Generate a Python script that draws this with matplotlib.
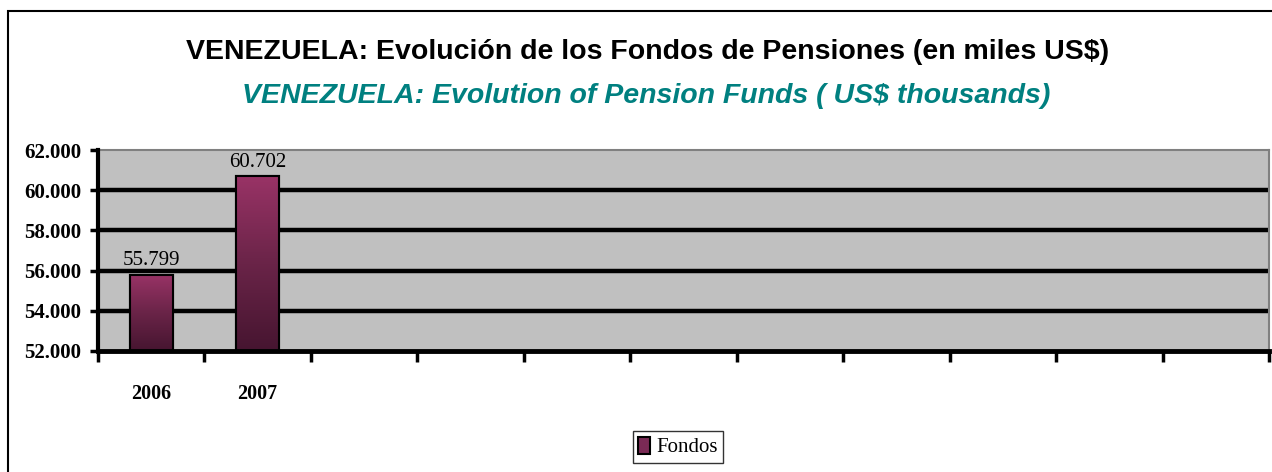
import numpy as np
import matplotlib
matplotlib.use("Agg")
import matplotlib.pyplot as plt
from matplotlib.patches import Rectangle
from matplotlib.colors import LinearSegmentedColormap

# data
years = ["2006", "2007", "", "", "", "", "", "", "", "", ""]
fondos = [55799, 60702]
y_ticks = [52000, 54000, 56000, 58000, 60000, 62000]

title_es = "VENEZUELA: Evolución de los Fondos de Pensiones (en miles US$)"
title_en = "VENEZUELA: Evolution of Pension Funds ( US$ thousands)"

sans = ["Liberation Sans", "DejaVu Sans"]
serif = ["Liberation Serif", "DejaVu Serif"]

fig = plt.figure(figsize=(12.72, 4.72), dpi=100)
ax = fig.add_axes([98 / 1272, 1 - 351 / 472, (1269 - 98) / 1272, (351 - 150) / 472])

ax.set_facecolor("#C0C0C0")
ax.set_xlim(-0.5, len(years) - 0.5)
ax.set_ylim(52000, 62000)

x = np.arange(len(fondos))
bars = ax.bar(x, np.array(fondos) - 52000, bottom=52000, width=0.4,
              color="#7a2a55", edgecolor="black", linewidth=1.5, zorder=3)

# gradient fill inside each bar
cmap = LinearSegmentedColormap.from_list("grad", ["#461530", "#6a2448", "#993366"])
grad = np.linspace(0, 1, 256).reshape(-1, 1)
for b in bars:
    x0 = b.get_x()
    x1 = x0 + b.get_width()
    y0 = b.get_y()
    y1 = y0 + b.get_height()
    im = ax.imshow(grad, cmap=cmap, origin="lower", aspect="auto",
                   extent=[x0, x1, y0, y1], zorder=3.5)
    im.set_clip_path(b)
    ax.add_patch(Rectangle((x0, y0), b.get_width(), b.get_height(),
                           fill=False, ec="black", lw=1.5, zorder=4))

for xi, v in zip(x, fondos):
    ax.annotate(f"{v:,}".replace(",", "."), (xi, v), xytext=(0, 3),
                textcoords="offset points", ha="center", va="bottom",
                fontsize=15, family=serif, zorder=5)

# grid
for yv in y_ticks[1:-1]:
    ax.axhline(yv, color="black", lw=3.2, zorder=1)

ax.set_yticks(y_ticks)
ax.set_yticklabels([f"{v:,}".replace(",", ".") for v in y_ticks],
                   fontsize=15, fontweight="bold", family=serif)
ax.tick_params(axis="y", direction="out", length=6, width=2.5, pad=6)

ax.set_xticks(range(len(years)))
ax.set_xticklabels(years, fontsize=14.5, fontweight="bold", family=serif)
ax.set_xticks(np.arange(-0.5, len(years)), minor=True)
ax.tick_params(axis="x", which="major", length=0, pad=24)
ax.tick_params(axis="x", which="minor", direction="out", length=8, width=2.5)

ax.spines["left"].set_linewidth(3)
ax.spines["bottom"].set_linewidth(3.5)
ax.spines["top"].set_color("#808080")
ax.spines["top"].set_linewidth(1.5)
ax.spines["right"].set_color("#808080")
ax.spines["right"].set_linewidth(1.5)
ax.spines["left"].set_zorder(6)
ax.spines["bottom"].set_zorder(6)

# titles
fig.text(648 / 1272, 1 - 52 / 472, title_es, ha="center", va="center",
         fontsize=20.5, fontweight="bold", family=sans)
fig.text(646 / 1272, 1 - 96 / 472, title_en, ha="center", va="center",
         fontsize=20.5, fontweight="bold", style="italic", color="#008080", family=sans)

# legend
handle = Rectangle((0, 0), 1, 1, facecolor="#7a2a55", edgecolor="black", lw=1.5)
leg = fig.legend([handle], ["Fondos"], loc="center", bbox_to_anchor=(678 / 1272, 1 - 447 / 472),
                 prop={"family": serif, "size": 15}, frameon=True, fancybox=False,
                 handlelength=0.6, handleheight=0.9, handletextpad=0.3,
                 borderpad=0.25, borderaxespad=0)
leg.get_frame().set_edgecolor("black")
leg.get_frame().set_linewidth(1)

# outer frame
fig.add_artist(Rectangle((8 / 1272, -0.1), 1.2, (472 - 11) / 472 + 0.1,
                         transform=fig.transFigure, fill=False, ec="black", lw=1.5))

fig.savefig("out.png", dpi=100)
